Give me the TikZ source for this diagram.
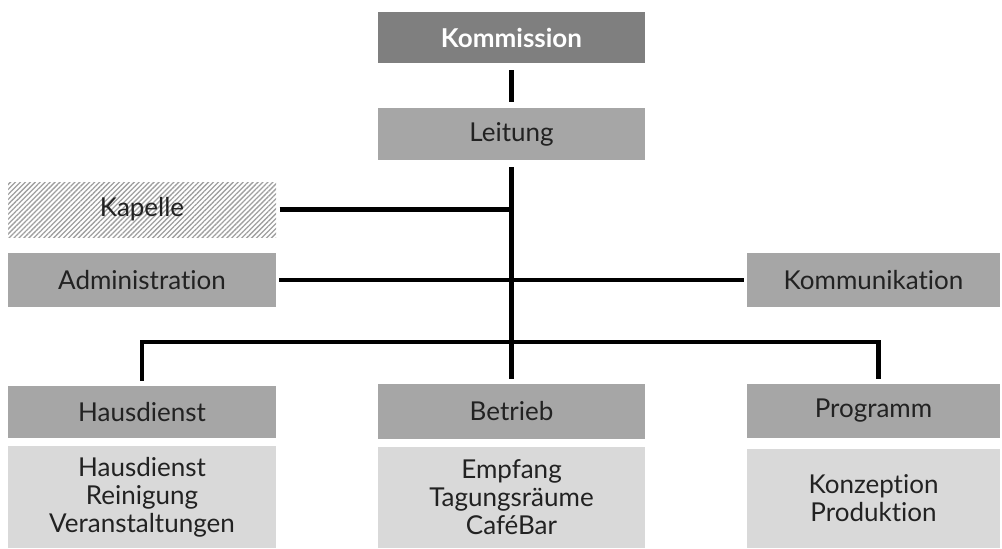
\documentclass[tikz,border=0pt]{standalone}
\usepackage{fontspec}
\setmainfont{Lato}[Ligatures=NoCommon]
\usetikzlibrary{patterns.meta}
\definecolor{dark}{HTML}{7F7F7F}
\definecolor{mid}{HTML}{A6A6A6}
\definecolor{light}{HTML}{D9D9D9}
\definecolor{txt}{HTML}{222222}
\tikzset{
  box/.style={inner sep=0pt, text=txt, font=\fontsize{26}{28}\selectfont, align=center},
  headbox/.style={box, fill=mid},
  subbox/.style={box, fill=light},
  topbox/.style={box, fill=dark, text=white, font=\bfseries\fontsize{26}{28}\selectfont},
  hatchbox/.style={box, pattern={Lines[angle=45,distance=3.5pt,line width=1.3pt]}, pattern color=gray!75},
  conn/.style={line width=4.5pt, black, line join=miter},
}
\begin{document}
\begin{tikzpicture}[x=1pt,y=-1pt]
\useasboundingbox (0,0) rectangle (1002,549);
\node[topbox, minimum width=267pt, minimum height=51pt] (komm) at (511.5,37.5) {Kommission};
\node[headbox, minimum width=267pt, minimum height=52pt] (leit) at (511.5,134) {Leitung};
\node[hatchbox, minimum width=268pt, minimum height=55pt] (kap) at (142,209.5) {Kapelle};
\node[headbox, minimum width=268pt, minimum height=54pt] (adm) at (142,280) {Administration};
\node[headbox, minimum width=253pt, minimum height=54pt] (kommu) at (873.5,280) {Kommunikation};
\node[headbox, minimum width=268pt, minimum height=52pt] (haus) at (142,412) {Hausdienst};
\node[subbox, minimum width=268pt, minimum height=102pt] (hsub) at (142,497) {Hausdienst\\Reinigung\\Veranstaltungen};
\node[headbox, minimum width=267pt, minimum height=55pt] (betr) at (511.5,411.5) {Betrieb};
\node[subbox, minimum width=267pt, minimum height=101pt] (bsub) at (511.5,497.5) {Empfang\\Tagungsräume\\CaféBar};
\node[headbox, minimum width=253pt, minimum height=54pt] (prog) at (873.5,411) {Programm};
\node[subbox, minimum width=253pt, minimum height=99pt] (psub) at (873.5,498.5) {Konzeption\\Produktion};
\coordinate (bus) at (511.5,342);
\draw[conn] ([yshift=-7pt]komm.south) -- ([yshift=6pt]leit.north);
\draw[conn] ([yshift=-7pt]leit.south) -- ([yshift=5pt]betr.north);
\draw[conn] ([xshift=3pt]kap.east) -- (kap.east -| leit.south);
\draw[conn] ([xshift=3pt]adm.east) -- ([xshift=-3pt]kommu.west);
\draw[conn] ([yshift=5pt]haus.north) |- (bus) -| ([xshift=5pt,yshift=5pt]prog.north);
\end{tikzpicture}
\end{document}
